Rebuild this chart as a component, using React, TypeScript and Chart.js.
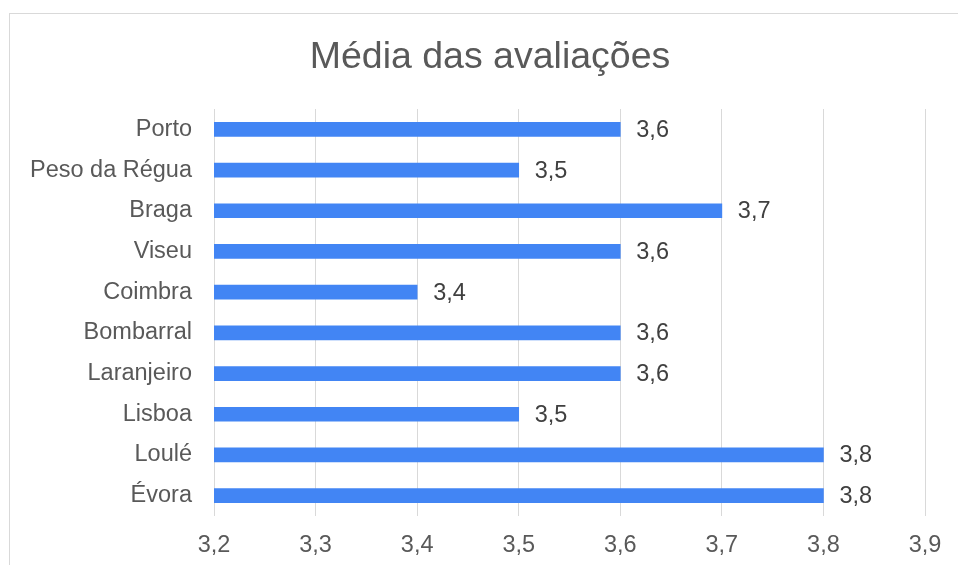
import React, { useEffect, useRef } from "react";
import { Chart, registerables } from "chart.js";

Chart.register(...registerables);

const categories = ["Porto", "Peso da Régua", "Braga", "Viseu", "Coimbra", "Bombarral", "Laranjeiro", "Lisboa", "Loulé", "Évora"];
const values = [3.6, 3.5, 3.7, 3.6, 3.4, 3.6, 3.6, 3.5, 3.8, 3.8];
const axisMin = 3.2;
const axisMax = 3.9;
const axisStep = 0.1;
const title = "Média das avaliações";

const fmt = (v: number) => Number(v).toFixed(1).replace(".", ",");
const FONT = "'Liberation Sans', Arial, sans-serif";
const LABEL_SIZE = 23.5;

const valueLabels = {
  id: "valueLabels",
  afterDatasetsDraw(chart: any) {
    const ctx = chart.ctx;
    const meta = chart.getDatasetMeta(0);
    ctx.save();
    ctx.font = `${LABEL_SIZE}px ${FONT}`;
    ctx.fillStyle = "#404040";
    ctx.textAlign = "left";
    ctx.textBaseline = "middle";
    meta.data.forEach((bar: any, i: number) => {
      ctx.fillText(fmt(values[i]), bar.x + 16, bar.y + 1);
    });
    ctx.restore();
  },
};

const chartTitle = {
  id: "chartTitle",
  afterDraw(chart: any) {
    const ctx = chart.ctx;
    ctx.save();
    ctx.font = `37.5px ${FONT}`;
    ctx.fillStyle = "#595959";
    ctx.textAlign = "center";
    ctx.textBaseline = "middle";
    ctx.fillText(title, 480, 43.5);
    ctx.restore();
  },
};

export default function App() {
  const ref = useRef<HTMLCanvasElement>(null);
  useEffect(() => {
    if (!ref.current) return;
    const chart = new Chart(ref.current, {
      type: "bar",
      data: {
        labels: categories,
        datasets: [
          {
            data: values,
            backgroundColor: "#4285F4",
            borderWidth: 0,
            barThickness: 14,
          },
        ],
      },
      options: {
        indexAxis: "y",
        responsive: false,
        animation: false,
        layout: { padding: { top: 95, left: 0, right: 33, bottom: 0 } },
        plugins: {
          legend: { display: false },
          tooltip: { enabled: false },
          title: { display: false },
        },
        scales: {
          x: {
            min: axisMin,
            max: axisMax,
            ticks: {
              stepSize: axisStep,
              callback: (v: any) => fmt(v),
              color: "#595959",
              font: { family: FONT, size: LABEL_SIZE },
              padding: 15,
            },
            grid: { color: "#D9D9D9", lineWidth: 1, drawTicks: false },
            border: { display: false },
            afterFit: (s: any) => {
              s.height = 49;
            },
          },
          y: {
            ticks: {
              color: "#595959",
              font: { family: FONT, size: LABEL_SIZE },
              padding: 22,
            },
            grid: { display: false, drawTicks: false },
            border: { display: false },
            afterFit: (s: any) => {
              s.width = 204;
            },
          },
        },
      },
      plugins: [valueLabels, chartTitle],
    });
    return () => chart.destroy();
  }, []);

  return (
    <div
      style={{
        position: "absolute",
        left: 9,
        top: 13,
        width: 949,
        height: 552,
        borderTop: "1px solid #D9D9D9",
        borderLeft: "1px solid #D9D9D9",
        boxSizing: "border-box",
        background: "#fff",
        overflow: "hidden",
      }}
    >
      <canvas ref={ref} width={948} height={551} style={{ display: "block" }} />
    </div>
  );
}
